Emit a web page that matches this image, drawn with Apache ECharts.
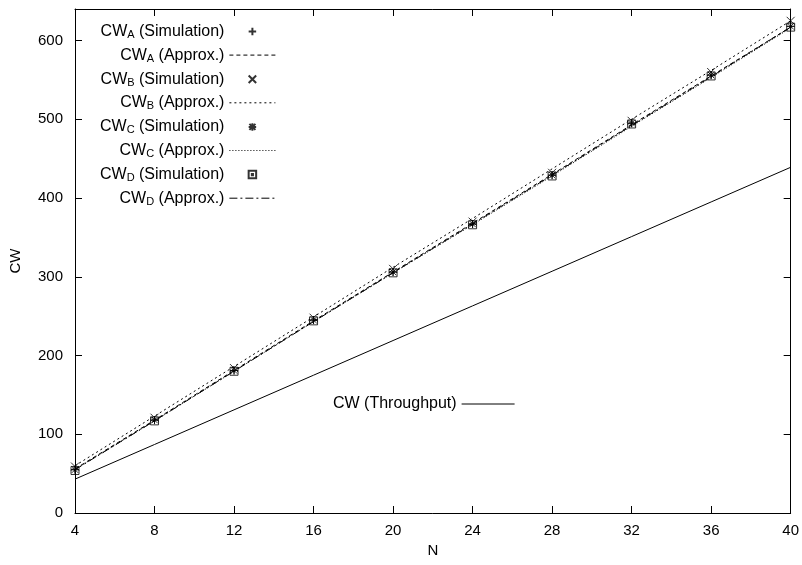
<!DOCTYPE html>
<html><head><meta charset="utf-8">
<script src="https://cdn.jsdelivr.net/npm/echarts@6/dist/echarts.min.js"></script>
<style>html,body{margin:0;padding:0;background:#fff}#c{width:802px;height:565px}</style>
</head><body><div id="c"></div>
<script>
// ---- data ----
const nValues = [4, 8, 12, 16, 20, 24, 28, 32, 36, 40];
const simA    = [55, 118, 181, 245, 306, 367, 429, 495, 556, 618];
const approxA = [56, 118, 181, 244, 306, 368, 430, 493, 555, 617];
const simB    = [59, 121, 184, 248, 310, 370, 432, 498, 560, 625];
const approxB = [60, 123, 186, 249, 312, 374, 437, 500, 562, 625];
const simC    = [55, 118, 181, 245, 306, 367, 429, 495, 556, 618];
const approxC = [55, 117, 180, 243, 305, 366, 428, 491, 553, 616];
const simD    = [54, 117, 180, 244, 305, 366, 428, 494, 555, 617];
const approxD = [55, 117, 180, 243, 305, 367, 429, 492, 554, 617];
const throughput = [43, 87, 131, 175, 219, 263, 307, 351, 395, 439];

const xTicks = [4, 8, 12, 16, 20, 24, 28, 32, 36, 40];
const yTicks = [0, 100, 200, 300, 400, 500, 600];

const seriesKeys = ['A', 'B', 'C', 'D'];
const simLabel = ' (Simulation)';
const approxLabel = ' (Approx.)';
const throughputName = 'CW (Throughput)';

// ---- styles ----
const FF = 'Liberation Sans, Arial, Helvetica, sans-serif';
const pad = 'M-2,-2M2,2';
const symbols = {
  A: 'path://' + pad + 'M0,-1L0,1M-1,0L1,0',
  B: 'path://' + pad + 'M-1,-1L1,1M-1,1L1,-1',
  C: 'path://' + pad + 'M0,-1L0,1M-1,0L1,0M-0.8,-0.8L0.8,0.8M-0.8,0.8L0.8,-0.8',
  D: 'path://' + pad + 'M-1,-1L1,-1L1,1L-1,1ZM-0.15,-0.15L0.15,-0.15L0.15,0.15L-0.15,0.15Z'
};
const dashes = { A: [4, 3], B: [2, 3], C: [1, 2], D: [8, 3, 2, 3] };
const simData = { A: simA, B: simB, C: simC, D: simD };
const approxData = { A: approxA, B: approxB, C: approxC, D: approxD };

const pairs = arr => nValues.map((n, i) => [n, arr[i]]);

const series = [];
const legendItems = [];
const hiddenSym = { opacity: 0 };
seriesKeys.forEach(k => {
  const sName = 'CW' + k + simLabel;
  const aName = 'CW' + k + approxLabel;
  legendItems.push({ name: sName }, { name: aName, itemStyle: hiddenSym });
  series.push({
    name: sName, type: 'scatter', data: pairs(simData[k]),
    symbol: symbols[k], symbolSize: 16, symbolKeepAspect: true,
    itemStyle: { color: 'transparent', borderColor: '#000', borderWidth: 1 },
    z: 3
  });
  series.push({
    name: aName, type: 'line', data: pairs(approxData[k]),
    symbol: 'none', showSymbol: false,
    itemStyle: { color: '#000', opacity: 0 },
    lineStyle: { color: '#000', width: 1, type: dashes[k], opacity: 1 },
    z: 2
  });
});
series.push({
  name: throughputName, type: 'line', data: pairs(throughput),
  symbol: 'none', showSymbol: false,
  itemStyle: { color: '#000', opacity: 0 },
  lineStyle: { color: '#000', width: 1, type: 'solid', opacity: 1 }, z: 2
});

function legendFmt(name) {
  const m = name.match(/^CW([A-D])(.*)$/);
  if (!m) return name;
  return '{m|CW}{s|' + m[1] + '}{m|' + m[2] + '}';
}

const axisCommon = {
  axisLine: { show: true, onZero: false, lineStyle: { color: '#000', width: 1 } },
  axisTick: { show: true, inside: true, length: 7, lineStyle: { color: '#000', width: 1 } },
  splitLine: { show: false }
};

const option = {
  backgroundColor: '#fff',
  animation: false,
  grid: { left: 75, right: 11, top: 9, bottom: 52, containLabel: false },
  xAxis: [
    Object.assign({
      type: 'value', min: xTicks[0], max: xTicks[xTicks.length - 1], interval: 4,
      position: 'bottom',
      name: 'N', nameLocation: 'middle', nameGap: 30,
      nameTextStyle: { fontFamily: FF, fontSize: 15, color: '#000' },
      axisLabel: { fontFamily: FF, fontSize: 15, color: '#000', margin: 10 }
    }, axisCommon),
    Object.assign({
      type: 'value', min: xTicks[0], max: xTicks[xTicks.length - 1], interval: 4,
      position: 'top', axisLabel: { show: false }
    }, axisCommon)
  ],
  yAxis: [
    Object.assign({
      type: 'value', min: yTicks[0], max: 640, interval: 100,
      position: 'left',
      name: 'CW', nameLocation: 'middle', nameGap: 52, nameRotate: 90,
      nameTextStyle: { fontFamily: FF, fontSize: 15, color: '#000' },
      axisLabel: { fontFamily: FF, fontSize: 15, color: '#000', margin: 12, showMaxLabel: false }
    }, axisCommon),
    Object.assign({
      type: 'value', min: yTicks[0], max: 640, interval: 100,
      position: 'right', axisLabel: { show: false }
    }, axisCommon)
  ],
  legend: [
    {
      data: legendItems, orient: 'vertical', align: 'right',
      left: 100, top: 23, padding: 0, itemGap: 6.6, itemWidth: 46, itemHeight: 15, itemTextGap: 5,
      selectedMode: false, formatter: legendFmt,
      lineStyle: { width: 1 },
      textStyle: {
        color: '#000',
        rich: {
          m: { fontFamily: FF, fontSize: 16, color: '#000', align: 'right', lineHeight: 18, verticalAlign: 'middle' },
          s: { fontFamily: FF, fontSize: 11, color: '#000', align: 'right', verticalAlign: 'bottom', lineHeight: 11 }
        }
      }
    },
    {
      data: [{ name: throughputName, itemStyle: hiddenSym }], orient: 'vertical', align: 'right',
      left: 333, top: 395, padding: 0, itemWidth: 53, itemHeight: 15, itemTextGap: 3,
      selectedMode: false,
      lineStyle: { width: 1 },
      textStyle: { fontFamily: FF, fontSize: 16, color: '#000', lineHeight: 18 }
    }
  ],
  series: series
};

const chart = echarts.init(document.getElementById('c'), null, { renderer: 'canvas' });
chart.setOption(option);
</script>
</body></html>
